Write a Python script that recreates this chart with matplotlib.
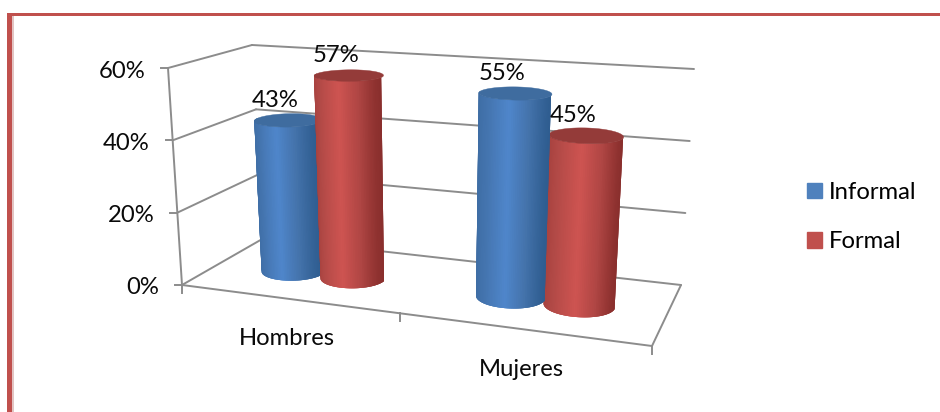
import numpy as np
import matplotlib
matplotlib.use('Agg')
import matplotlib.pyplot as plt
from matplotlib.collections import PolyCollection
from matplotlib.patches import Patch, Rectangle

categories = ['Hombres', 'Mujeres']
series_names = ['Informal', 'Formal']
informal = [43, 55]
formal = [57, 45]
tick_values = [0, 20, 40, 60]
tick_labels = ['0%', '20%', '40%', '60%']

# corners of the 3d box in pixels (front/back, left/right, bottom/top)
FLB = np.array([182, 285.])
FRB = np.array([652, 346.])
BLB = np.array([264, 238.])
BRB = np.array([681, 285.])
FLT = np.array([168, 68.])
FRT = np.array([668, 101.])
BLT = np.array([252, 45.])
BRT = np.array([694, 69.])
K = 1.155  # perspective along the width
Y_MAX = 60.
RU = 0.072
RV = 0.2


def project(u, v, val):
    u = np.asarray(u, dtype=float)
    v = np.asarray(v, dtype=float)
    s = u / (u + K * (1 - u))
    w = np.asarray(val, dtype=float) / Y_MAX
    s, v, w = [a[..., None] for a in np.broadcast_arrays(s, v, w)]
    bottom = (1 - v) * ((1 - s) * FLB + s * FRB) + v * ((1 - s) * BLB + s * BRB)
    top = (1 - v) * ((1 - s) * FLT + s * FRT) + v * ((1 - s) * BLT + s * BRT)
    return (1 - w) * bottom + w * top


def line(ax, p0, p1):
    pts = project([p0[0], p1[0]], [p0[1], p1[1]], [p0[2], p1[2]])
    ax.plot(pts[:, 0], pts[:, 1], color='#8c8c8c', lw=1.4, zorder=1,
            solid_capstyle='round')


def cylinder(ax, uc, value, colors, cap, z):
    theta = np.linspace(np.pi, 2 * np.pi, 61)
    us = uc + RU * np.cos(theta)
    vs = 0.5 + RV * np.sin(theta)
    low = project(us, vs, 0)
    high = project(us, vs, value)
    polys = []
    faces = []
    for i in range(len(theta) - 1):
        # each strip runs over the next one, so no seams show
        j = min(i + 3, len(theta) - 1)
        polys.append(list(low[i:j + 1]) + list(high[i:j + 1][::-1]))
        t = (np.cos(theta[i]) + np.cos(theta[i + 1])) / 2
        faces.append([np.interp(t, [-1, -0.55, 0.1, 0.6, 1], colors[:, c]) for c in range(3)])
    ax.add_collection(PolyCollection(polys, facecolors=faces, edgecolors='none', zorder=z))
    t2 = np.linspace(0, 2 * np.pi, 80)
    top = project(uc + RU * np.cos(t2), 0.5 + RV * np.sin(t2), value)
    ax.fill(top[:, 0], top[:, 1], color=cap, lw=0.3, zorder=z + 0.1)


def hexes(*cols):
    return np.array([matplotlib.colors.to_rgb(c) for c in cols])


blue_shade = hexes('#3d6ca3', '#4474ae', '#4f86cb', '#4473ab', '#2f5d90')
red_shade = hexes('#a5403d', '#b34a47', '#ce5451', '#b04644', '#8a2f2d')

fig = plt.figure(figsize=(9.4, 4.12), dpi=100)
ax = fig.add_axes([0, 0, 1, 1])
ax.set_xlim(0, 940)
ax.set_ylim(412, 0)
ax.axis('off')
plt.rcParams['font.family'] = ['Lato', 'DejaVu Sans']
FS = 17.2
INK = '#0a0a0a'

# page border
ax.add_patch(Rectangle((12, 16), 1.5, 396, color='#e3c4c3', lw=0, zorder=0))
ax.add_patch(Rectangle((7, 13), 5, 399, color='#c0504d', lw=0, zorder=0))
ax.add_patch(Rectangle((7, 13), 933, 3, color='#c0504d', lw=0, zorder=0))

# walls and floor
for val in tick_values:
    line(ax, (0, 0, val), (0, 1, val))
    line(ax, (0, 1, val), (1, 1, val))
line(ax, (0, 0, 0), (0, 0, Y_MAX))
line(ax, (0, 0, 0), (1, 0, 0))
line(ax, (1, 0, 0), (1, 1, 0))

# ticks
for val, lab in zip(tick_values, tick_labels):
    p = project(0, 0, val)
    ax.plot([p[0] - 7, p[0]], [p[1], p[1]], color='#8c8c8c', lw=1.4, zorder=1)
    ax.text(p[0] - 23, p[1] + 3, lab, ha='right', va='center', fontsize=FS, color=INK)
for u in [0, 0.5, 1]:
    p = project(u, 0, 0)
    ax.plot([p[0], p[0]], [p[1], p[1] + 8], color='#8c8c8c', lw=1.4, zorder=1)

# bars, outer ones first so the ones near the middle sit on top
bars = []
for i, cat in enumerate(categories):
    center = 0.25 + 0.5 * i
    bars.append((center - 0.069, informal[i], blue_shade, '#3f6c9f'))
    bars.append((center + 0.075, formal[i], red_shade, '#943b39'))
    p = project(center, 0, 0)
    ax.text(p[0], p[1] + 40, cat, ha='center', va='center', fontsize=FS, color=INK)

bars.sort(key=lambda b: -abs(b[0] - 0.5))
for n, (uc, value, shade, cap) in enumerate(bars):
    cylinder(ax, uc, value, shade, cap, 2 + n)
    p = project(uc, 0.5, value)
    ax.annotate(f'{value}%', (p[0], p[1]), xytext=(-13 * 0.72, 20 * 0.72),
                textcoords='offset points', ha='center', va='center',
                fontsize=FS, color=INK, zorder=20)

handles = [Patch(color='#4f81bd', label=series_names[0]),
           Patch(color='#c0504d', label=series_names[1])]
ax.legend(handles=handles, loc='center left', bbox_to_anchor=(0.8585, 0.473), frameon=False,
          fontsize=FS, handlelength=0.63, handleheight=0.63, handletextpad=0.3,
          labelspacing=1.2, borderpad=0, borderaxespad=0)

plt.savefig('out.png', dpi=100)
